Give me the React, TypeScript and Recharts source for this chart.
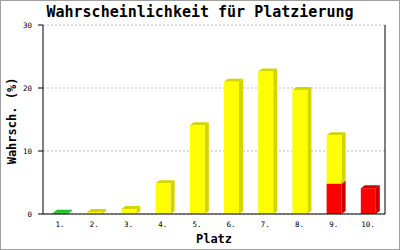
import { BarChart, Bar, XAxis, YAxis, CartesianGrid, Label } from 'recharts';

const places = ['1.', '2.', '3.', '4.', '5.', '6.', '7.', '8.', '9.', '10.'];
const greenShare = [0.2, 0, 0, 0, 0, 0, 0, 0, 0, 0];
const redShare = [0, 0, 0, 0, 0, 0, 0, 0, 4.8, 4.1];
const yellowShare = [0, 0.3, 0.8, 4.9, 14.1, 21.0, 22.6, 19.7, 7.7, 0];
const yTicks = [0, 10, 20, 30];

const data = places.map((p, i) => ({
  place: p,
  green: greenShare[i],
  red: redShare[i],
  yellow: yellowShare[i],
}));

const mono = 'DejaVu Sans Mono';

// simple fake-3D box: front face + top + right side
const box3d = (front: string, side: string) => (props: any) => {
  const { x, y, width, height } = props;
  if (!height || height <= 0) return <g />;
  const dx = 4;
  const dy = 3;
  return (
    <g>
      <polygon
        points={`${x + width},${y} ${x + width + dx},${y - dy} ${x + width + dx},${y + height - dy} ${x + width},${y + height}`}
        fill={side}
      />
      <polygon
        points={`${x},${y} ${x + dx},${y - dy} ${x + width + dx},${y - dy} ${x + width},${y}`}
        fill={side}
      />
      <rect x={x} y={y} width={width} height={height} fill={front} />
    </g>
  );
};

export default function App() {
  return (
    <div style={{ position: 'absolute', left: 0, top: 0, width: 400, height: 250, background: '#fff' }}>
      <BarChart
        width={400}
        height={250}
        data={data}
        margin={{ top: 25, right: 0, bottom: 0, left: 0 }}
        barSize={15}
      >
        <CartesianGrid yAxisId="left" vertical={false} stroke="#bbbbbb" strokeDasharray="2 2" />
        <XAxis
          dataKey="place"
          height={36}
          tickLine={false}
          tickSize={0}
          tickMargin={8}
          axisLine={{ stroke: '#000' }}
          tick={{ fill: '#000', fontSize: 7.5, fontFamily: mono }}
          interval={0}
        >
          <Label
            value="Platz"
            position="insideBottom"
            offset={7}
            style={{ fontFamily: mono, fontWeight: 'bold', fontSize: 12, fill: '#000' }}
          />
        </XAxis>
        <YAxis
          yAxisId="left"
          width={43}
          domain={[0, 30]}
          ticks={yTicks}
          tickSize={5}
          tickMargin={6}
          axisLine={{ stroke: '#000' }}
          tickLine={{ stroke: '#000' }}
          tick={{ fill: '#000', fontSize: 7.5, fontFamily: mono }}
        >
          <Label
            content={() => (
              <text
                x={12}
                y={121}
                transform="rotate(-90 12 121)"
                textAnchor="middle"
                dominantBaseline="central"
                style={{ fontFamily: mono, fontWeight: 'bold', fontSize: 12, fill: '#000' }}
              >
                Wahrsch. (%)
              </text>
            )}
          />
        </YAxis>
        <YAxis
          yAxisId="right"
          orientation="right"
          width={15}
          domain={[0, 30]}
          tick={false}
          tickLine={false}
          axisLine={{ stroke: '#000' }}
        />
        <Bar yAxisId="left" dataKey="green" stackId="p" isAnimationActive={false} shape={box3d('#00dd00', '#22c022')} />
        <Bar yAxisId="left" dataKey="red" stackId="p" isAnimationActive={false} shape={box3d('#ff0000', '#cc0000')} />
        <Bar yAxisId="left" dataKey="yellow" stackId="p" isAnimationActive={false} shape={box3d('#ffff00', '#d4d400')} />
      </BarChart>
      <svg width={400} height={250} style={{ position: 'absolute', left: 0, top: 0, pointerEvents: 'none' }}>
        <text
          x={200}
          y={17}
          textAnchor="middle"
          style={{ fontFamily: mono, fontWeight: 'bold', fontSize: 15, fill: '#000' }}
        >
          Wahrscheinlichkeit für Platzierung
        </text>
      </svg>
      <div
        style={{
          position: 'absolute',
          left: 0,
          top: 0,
          width: 400,
          height: 250,
          boxSizing: 'border-box',
          border: '1px solid #a0a0a0',
          pointerEvents: 'none',
        }}
      />
    </div>
  );
}
